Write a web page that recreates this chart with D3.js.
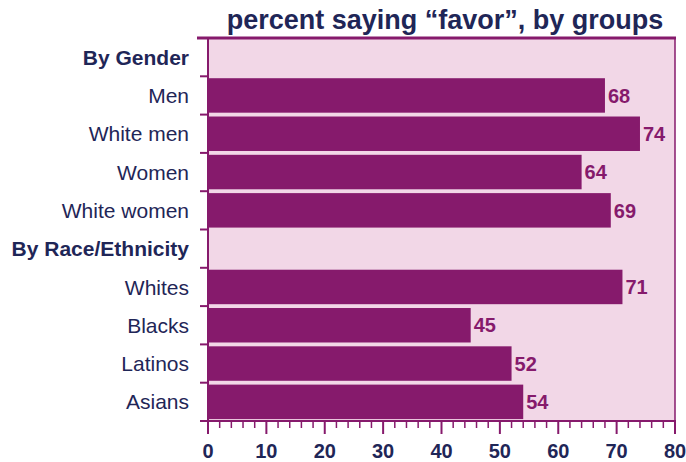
<!DOCTYPE html>
<html><head><meta charset="utf-8">
<script src="https://cdn.jsdelivr.net/npm/d3@7"></script>
<style>body{margin:0;background:#fff}svg{display:block}</style>
</head><body>
<svg id="c" width="686" height="462"></svg>
<script>
const title = "percent saying \u201cfavor\u201d, by groups";
const rows = ["By Gender","Men","White men","Women","White women","By Race/Ethnicity","Whites","Blacks","Latinos","Asians"];
const headers = ["By Gender","By Race/Ethnicity"];
const categories = ["Men","White men","Women","White women","Whites","Blacks","Latinos","Asians"];
const values = [68,74,64,69,71,45,52,54];
const majorTicks = [0,10,20,30,40,50,60,70,80];
const minorTicks = d3.range(0,81,2);

const svg = d3.select("#c");
const m = {l:208, r:675, t:38, b:421};
const x = d3.scaleLinear().domain([0,80]).range([m.l, m.r]);
const y = d3.scaleBand().domain(rows).range([m.t, m.b]).paddingInner(0.1).paddingOuter(0.05);
const navy = "#1f2657", mag = "#861a6c";
const font = "Liberation Sans, Arial, sans-serif";

svg.append("rect").attr("x",m.l).attr("y",m.t).attr("width",m.r-m.l).attr("height",m.b-m.t).attr("fill","#f2d7e7");
// frame
svg.append("line").attr("x1",197).attr("x2",m.r+1).attr("y1",m.t).attr("y2",m.t).attr("stroke",mag).attr("stroke-width",3);
svg.append("line").attr("x1",m.r).attr("x2",m.r).attr("y1",m.t).attr("y2",m.b).attr("stroke",mag).attr("stroke-width",1.5);
svg.append("line").attr("x1",m.l).attr("x2",m.l).attr("y1",m.t).attr("y2",m.b).attr("stroke",mag).attr("stroke-width",2);

// bars
svg.selectAll("rect.bar").data(categories).enter().append("rect").attr("class","bar")
  .attr("x",x(0)).attr("y",d=>y(d)).attr("height",y.bandwidth())
  .attr("width",(d,i)=>x(values[i])-x(0)).attr("fill",mag);
svg.selectAll("text.val").data(categories).enter().append("text").attr("class","val")
  .attr("x",(d,i)=>x(values[i])+3).attr("y",d=>y(d)+y.bandwidth()/2).attr("dy","0.36em")
  .attr("font-family",font).attr("font-weight","bold").attr("font-size",20)
  .attr("fill",mag).text((d,i)=>values[i]);

// row labels
svg.selectAll("text.lab").data(rows).enter().append("text").attr("class","lab")
  .attr("x",189).attr("y",d=>y(d)+y.bandwidth()/2).attr("dy","0.36em").attr("text-anchor","end")
  .attr("font-family",font).attr("font-size",21)
  .attr("font-weight",d=>headers.includes(d)?"bold":"normal").attr("fill",navy).text(d=>d);

// left row ticks at boundaries
const step = y.step();
const bounds = rows.slice(1).map(r=>y(r)-y.paddingInner()*step/2);
svg.selectAll("line.lt").data(bounds).enter().append("line")
  .attr("x1",m.l-8).attr("x2",m.l).attr("y1",d=>d).attr("y2",d=>d).attr("stroke",mag).attr("stroke-width",2);

// bottom axis
const ax = svg.append("g").attr("transform",`translate(0,${m.b})`);
ax.append("line").attr("x1",m.l-8).attr("x2",m.r+1).attr("y1",0).attr("y2",0).attr("stroke",mag).attr("stroke-width",2);
ax.selectAll("line.mn").data(minorTicks).enter().append("line")
  .attr("x1",d=>x(d)).attr("x2",d=>x(d)).attr("y1",0).attr("y2",d=>d%10===0?13:7)
  .attr("stroke",mag).attr("stroke-width",d=>d%10===0?2:1.5);
ax.selectAll("text").data(majorTicks).enter().append("text")
  .attr("x",d=>x(d)).attr("y",37).attr("text-anchor","middle")
  .attr("font-family",font).attr("font-weight","bold").attr("font-size",20)
  .attr("fill",navy).text(d=>d);

svg.append("text").attr("x",445).attr("y",29).attr("text-anchor","middle")
  .attr("font-family",font).attr("font-weight","bold").attr("font-size",27)
  .attr("fill",navy).text(title);
</script>
</body></html>
